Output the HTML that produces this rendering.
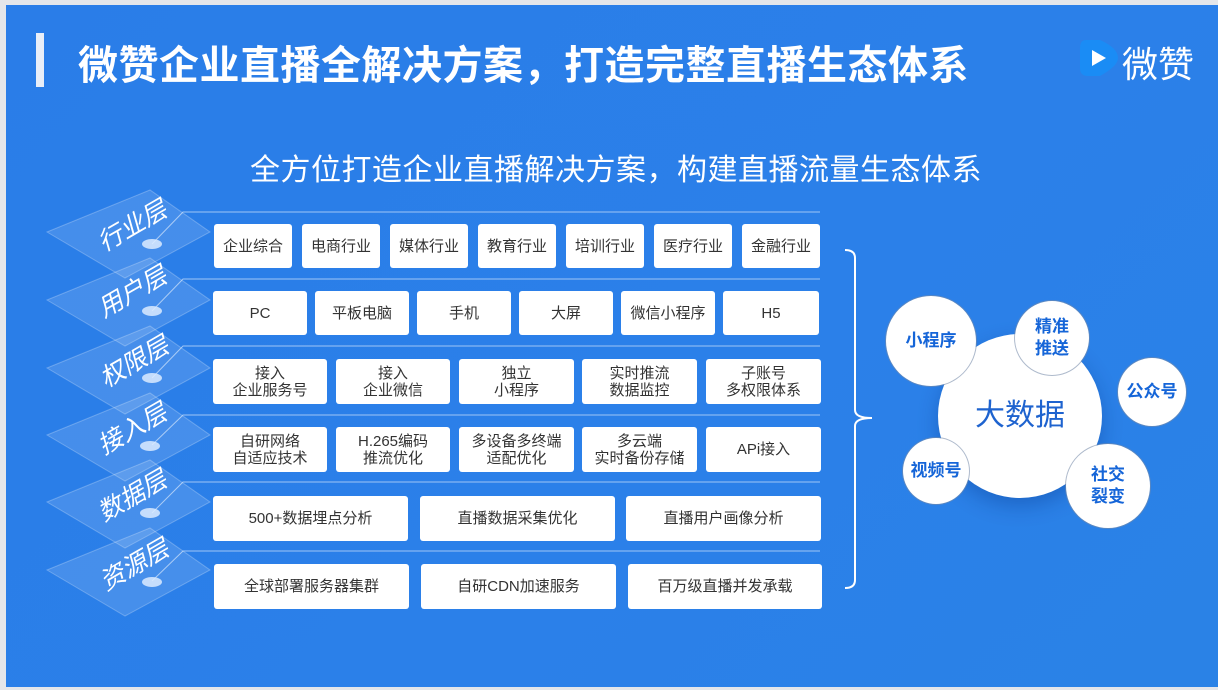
<!DOCTYPE html>
<html><head><meta charset="utf-8"><style>
*{margin:0;padding:0;box-sizing:border-box}
body{width:1218px;height:690px;background:#e4e6ea;position:relative;overflow:hidden;font-family:"Liberation Sans","Noto Sans CJK SC",sans-serif}
#slide{position:absolute;left:6px;top:5px;width:1212px;height:682px;background:linear-gradient(135deg,#2a7de8 0%,#2b80e9 60%,#2a82e6 100%)}
.b{position:absolute;background:#fff;border-radius:3px;color:#333;font-size:15px;display:flex;align-items:center;justify-content:center;text-align:center;line-height:17px}
.t{position:absolute;white-space:nowrap}
.c{position:absolute;border-radius:50%;background:#fff;display:flex;align-items:center;justify-content:center;text-align:center;color:#1565d8;font-weight:bold;font-size:17px;line-height:22px;box-shadow:0 0 0 1px rgba(120,140,170,.6)}
</style></head><body>
<div id="slide"></div>
<div style="position:absolute;left:36px;top:33px;width:8px;height:54px;background:#e8eef8"></div>
<div class="t" style="left:78px;top:33px;font-size:40px;font-weight:bold;color:#fff;letter-spacing:0.5px">微赞企业直播全解决方案，打造完整直播生态体系</div>
<div class="t" style="left:250px;top:145px;font-size:30px;color:#fff;letter-spacing:0.5px">全方位打造企业直播解决方案，构建直播流量生态体系</div>
<svg style="position:absolute;left:1078px;top:36px" width="42" height="44"><path d="M8 4 Q2 4 2 12 L2 32 Q2 40 10 40 L22 40 Q40 30 40 22 Q40 12 22 4 Z" fill="#1a8cf5"/><path d="M14 14 L28 22 L14 30 Z" fill="#fff"/></svg>
<div class="t" style="left:1122px;top:36px;font-size:36px;color:#fff">微赞</div>
<svg style="position:absolute;left:0;top:0" width="1218" height="690">
<g fill="rgba(255,255,255,0.13)" stroke="rgba(255,255,255,0.25)" stroke-width="1">
<polygon points="47,232 150,190 210,232 125,278"/>
<polygon points="47,300 150,258 210,300 125,346"/>
<polygon points="47,368 150,326 210,368 125,414"/>
<polygon points="47,435 150,393 210,435 125,481"/>
<polygon points="47,502 150,460 210,502 125,548"/>
<polygon points="47,570 150,528 210,570 125,616"/>
</g>
<g stroke="rgba(255,255,255,0.55)" stroke-width="1" fill="none">
<path d="M152 244 L183 212 L820 212"/>
<path d="M152 311 L183 279 L820 279"/>
<path d="M152 378 L183 346 L820 346"/>
<path d="M152 445 L183 415 L820 415"/>
<path d="M152 513 L183 482 L820 482"/>
<path d="M152 581 L183 551 L820 551"/>
</g>
<g fill="rgba(220,235,255,0.85)">
<ellipse cx="152" cy="244" rx="10" ry="5"/><ellipse cx="152" cy="311" rx="10" ry="5"/><ellipse cx="152" cy="378" rx="10" ry="5"/><ellipse cx="150" cy="446" rx="10" ry="5"/><ellipse cx="150" cy="513" rx="10" ry="5"/><ellipse cx="152" cy="582" rx="10" ry="5"/>
</g>
<g fill="#fff" font-size="25" font-family="Liberation Sans,Noto Sans CJK SC,sans-serif" font-style="italic">
<text transform="translate(104,252) rotate(-30)">行业层</text>
<text transform="translate(104,318) rotate(-30)">用户层</text>
<text transform="translate(106,388) rotate(-30)">权限层</text>
<text transform="translate(104,455) rotate(-30)">接入层</text>
<text transform="translate(104,522) rotate(-30)">数据层</text>
<text transform="translate(106,591) rotate(-30)">资源层</text>
</g>
<path d="M845 250 Q855 250 855 258 L855 410 Q855 418 872 418 Q855 418 855 426 L855 580 Q855 588 845 588" stroke="#fff" stroke-width="2" fill="none"/>
</svg>
<div class="b" style="left:214px;top:224px;width:78px;height:44px">企业综合</div>
<div class="b" style="left:302px;top:224px;width:78px;height:44px">电商行业</div>
<div class="b" style="left:390px;top:224px;width:78px;height:44px">媒体行业</div>
<div class="b" style="left:478px;top:224px;width:78px;height:44px">教育行业</div>
<div class="b" style="left:566px;top:224px;width:78px;height:44px">培训行业</div>
<div class="b" style="left:654px;top:224px;width:78px;height:44px">医疗行业</div>
<div class="b" style="left:742px;top:224px;width:78px;height:44px">金融行业</div>
<div class="b" style="left:213px;top:291px;width:94px;height:44px">PC</div>
<div class="b" style="left:315px;top:291px;width:94px;height:44px">平板电脑</div>
<div class="b" style="left:417px;top:291px;width:94px;height:44px">手机</div>
<div class="b" style="left:519px;top:291px;width:94px;height:44px">大屏</div>
<div class="b" style="left:621px;top:291px;width:94px;height:44px">微信小程序</div>
<div class="b" style="left:723px;top:291px;width:96px;height:44px">H5</div>
<div class="b" style="left:213px;top:359px;width:114px;height:45px">接入<br>企业服务号</div>
<div class="b" style="left:336px;top:359px;width:114px;height:45px">接入<br>企业微信</div>
<div class="b" style="left:459px;top:359px;width:115px;height:45px">独立<br>小程序</div>
<div class="b" style="left:582px;top:359px;width:115px;height:45px">实时推流<br>数据监控</div>
<div class="b" style="left:706px;top:359px;width:115px;height:45px">子账号<br>多权限体系</div>
<div class="b" style="left:213px;top:427px;width:114px;height:45px">自研网络<br>自适应技术</div>
<div class="b" style="left:336px;top:427px;width:114px;height:45px">H.265编码<br>推流优化</div>
<div class="b" style="left:459px;top:427px;width:115px;height:45px">多设备多终端<br>适配优化</div>
<div class="b" style="left:582px;top:427px;width:115px;height:45px">多云端<br>实时备份存储</div>
<div class="b" style="left:706px;top:427px;width:115px;height:45px">APi接入</div>
<div class="b" style="left:213px;top:496px;width:195px;height:45px">500+数据埋点分析</div>
<div class="b" style="left:420px;top:496px;width:195px;height:45px">直播数据采集优化</div>
<div class="b" style="left:626px;top:496px;width:195px;height:45px">直播用户画像分析</div>
<div class="b" style="left:214px;top:564px;width:195px;height:45px">全球部署服务器集群</div>
<div class="b" style="left:421px;top:564px;width:195px;height:45px">自研CDN加速服务</div>
<div class="b" style="left:628px;top:564px;width:194px;height:45px">百万级直播并发承载</div>
<div class="c" style="left:938px;top:334px;width:164px;height:164px;font-weight:normal;font-size:30px;color:#1e63cf;box-shadow:0 8px 20px rgba(0,40,120,.3)">大数据</div>
<div class="c" style="left:886px;top:296px;width:90px;height:90px">小程序</div>
<div class="c" style="left:1015px;top:301px;width:74px;height:74px">精准<br>推送</div>
<div class="c" style="left:1118px;top:358px;width:68px;height:68px">公众号</div>
<div class="c" style="left:903px;top:438px;width:66px;height:66px">视频号</div>
<div class="c" style="left:1066px;top:444px;width:84px;height:84px">社交<br>裂变</div>
</body></html>
